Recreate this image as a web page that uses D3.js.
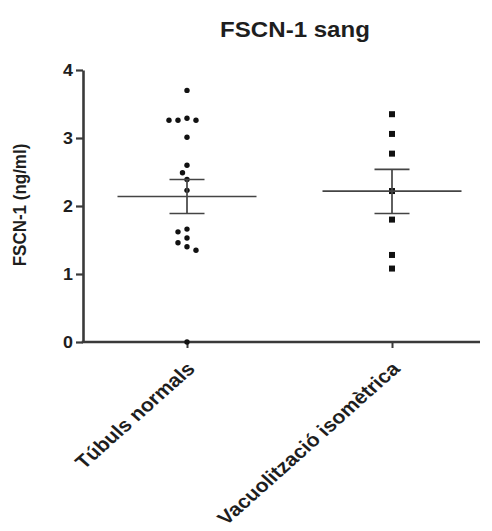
<!DOCTYPE html>
<html>
<head>
<meta charset="utf-8">
<script src="https://cdn.jsdelivr.net/npm/d3@7"></script>
<style>
  html, body { margin: 0; padding: 0; background: #fff; }
  svg { display: block; font-family: "Liberation Sans", Arial, sans-serif; }
</style>
</head>
<body>
<svg id="chart" width="492" height="531"></svg>
<script>
// Groups and individual FSCN-1 measurements (ng/ml)
const categories = ["Túbuls normals", "Vacuolització isomètrica"];
const tubulsNormals = [3.70, 3.26, 3.26, 3.26, 3.29, 3.01, 2.60, 2.49, 2.39, 2.23, 1.66, 1.62, 1.53, 1.46, 1.40, 1.35, 0];
const vacuolitzacio = [3.35, 3.06, 2.77, 2.22, 1.80, 1.28, 1.08];
// Group mean and error bar limits (mean ± SEM)
const means = [2.14, 2.22];
const semLow = [1.89, 1.89];
const semHigh = [2.39, 2.54];
const yTicks = [0, 1, 2, 3, 4];

const svg = d3.select("#chart");
const ink = "#1e1e1e";
const axisColor = "#3a3a3a";
const wide = 1.12; // horizontal widening applied to the lettering

const plotLeft = 83, plotRight = 480, plotTop = 70, plotBottom = 342;

const y = d3.scaleLinear().domain([0, 4]).range([plotBottom, plotTop]);
const x = d3.scalePoint().domain(categories).range([187, 392]);

// Title
svg.append("text")
  .attr("transform", `translate(295,37) scale(${wide},1)`)
  .attr("text-anchor", "middle")
  .attr("font-weight", "bold")
  .attr("font-size", 21.5)
  .attr("fill", ink)
  .text("FSCN-1 sang");

// Y axis
const yAxis = svg.append("g")
  .attr("transform", `translate(${plotLeft},0)`)
  .call(d3.axisLeft(y).tickValues(yTicks).tickFormat(d3.format("d")).tickSize(7).tickSizeOuter(0).tickPadding(0));
yAxis.select(".domain").attr("stroke", axisColor).attr("stroke-width", 2.6);
yAxis.selectAll(".tick line").attr("stroke", axisColor).attr("stroke-width", 2.2);
yAxis.selectAll(".tick text")
  .attr("x", null)
  .attr("transform", `translate(-10,0) scale(${wide},1)`)
  .attr("font-size", 16).attr("font-weight", "bold").attr("fill", ink)
  .attr("font-family", "Liberation Sans, Arial, sans-serif");

// Y axis title
svg.append("text")
  .attr("transform", `translate(26,205) scale(${wide},1) rotate(-90)`)
  .attr("text-anchor", "middle")
  .attr("font-weight", "bold")
  .attr("font-size", 17)
  .attr("fill", ink)
  .text("FSCN-1 (ng/ml)");

// X axis: baseline spanning the plot, ticks at the group positions
const xAxis = svg.append("g")
  .attr("transform", `translate(0,${plotBottom})`)
  .call(d3.axisBottom(x).tickSize(6).tickSizeOuter(0).tickFormat(""));
xAxis.select(".domain").remove();
xAxis.selectAll(".tick line").attr("stroke", axisColor).attr("stroke-width", 2);
svg.append("line")
  .attr("x1", plotLeft - 1.3).attr("x2", plotRight)
  .attr("y1", plotBottom).attr("y2", plotBottom)
  .attr("stroke", axisColor).attr("stroke-width", 2.6);

// Slanted category labels
svg.selectAll(".xlab").data(categories).enter().append("text")
  .attr("class", "xlab")
  .attr("transform", d => `translate(${x(d) + 9},${plotBottom + 28}) scale(${wide},1) rotate(-45)`)
  .attr("text-anchor", "end")
  .attr("font-weight", "bold")
  .attr("font-size", 19)
  .attr("fill", ink)
  .text(d => d);

// Simple dodge: spread points of similar value sideways so they don't overlap
function dodge(values, cx, r) {
  const placed = [];
  const order = values.map((v, i) => i).sort((a, b) => values[b] - values[a]);
  const out = new Array(values.length);
  order.forEach(i => {
    const py = y(values[i]);
    let k = 0, px;
    while (true) {
      const off = k === 0 ? 0 : Math.ceil(k / 2) * (k % 2 ? -1 : 1) * r * 0.9;
      px = cx + off;
      const clash = placed.some(p => Math.hypot(p[0] - px, p[1] - py) < r * 1.6);
      if (!clash) break;
      k++;
    }
    placed.push([px, py]);
    out[i] = [px, py];
  });
  return out;
}

// Group 1: round markers
const pts1 = dodge(tubulsNormals, x(categories[0]), 5);
svg.append("g").selectAll("circle").data(pts1).enter().append("circle")
  .attr("cx", d => d[0]).attr("cy", d => d[1]).attr("r", 2.7)
  .attr("fill", "#111");

// Group 2: square markers
const pts2 = dodge(vacuolitzacio, x(categories[1]), 6);
svg.append("g").selectAll("rect").data(pts2).enter().append("rect")
  .attr("x", d => d[0] - 3).attr("y", d => d[1] - 3)
  .attr("width", 6).attr("height", 6)
  .attr("fill", "#111");

// Mean lines and SEM error bars
const meanHalf = 69.5, capHalf = 17.5;
const summary = categories.map((c, i) => ({ c, mean: means[i], lo: semLow[i], hi: semHigh[i] }));
const sg = svg.append("g").attr("stroke", "#444").attr("stroke-width", 1.7);
sg.selectAll(".mean").data(summary).enter().append("line")
  .attr("x1", d => x(d.c) - meanHalf).attr("x2", d => x(d.c) + meanHalf)
  .attr("y1", d => y(d.mean)).attr("y2", d => y(d.mean));
sg.selectAll(".stem").data(summary).enter().append("line")
  .attr("x1", d => x(d.c)).attr("x2", d => x(d.c))
  .attr("y1", d => y(d.lo)).attr("y2", d => y(d.hi));
sg.selectAll(".caphi").data(summary).enter().append("line")
  .attr("x1", d => x(d.c) - capHalf).attr("x2", d => x(d.c) + capHalf)
  .attr("y1", d => y(d.hi)).attr("y2", d => y(d.hi));
sg.selectAll(".caplo").data(summary).enter().append("line")
  .attr("x1", d => x(d.c) - capHalf).attr("x2", d => x(d.c) + capHalf)
  .attr("y1", d => y(d.lo)).attr("y2", d => y(d.lo));
</script>
</body>
</html>
